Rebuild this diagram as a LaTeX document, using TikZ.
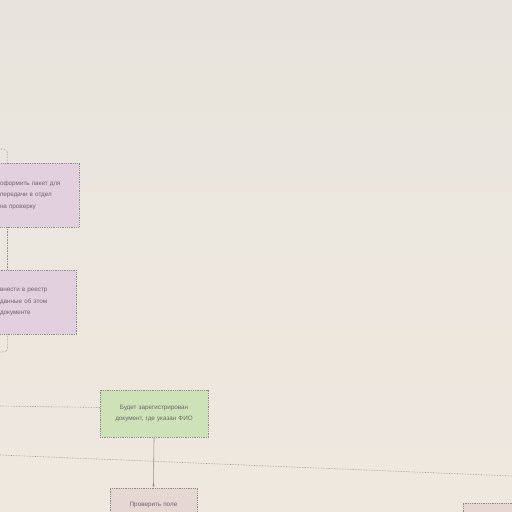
\documentclass[tikz,border=0pt]{standalone}
\usepackage{fontspec}
\setmainfont{Liberation Sans}
\usepackage{tikz}
\usetikzlibrary{arrows.meta, positioning}

\definecolor{wallbg}{RGB}{239,232,223}
\definecolor{walltop}{RGB}{232,228,221}
\definecolor{pinkbox}{RGB}{226,208,222}
\definecolor{greenbox}{RGB}{206,226,184}
\definecolor{rosebox}{RGB}{230,214,212}
\definecolor{wirecol}{RGB}{150,145,142}
\definecolor{inkcol}{RGB}{110,100,108}

\begin{document}
\begin{tikzpicture}[
        x=1pt, y=-1pt,
        >=Latex,
        every node/.style={font=\fontsize{6.3}{11.5}\selectfont, text=inkcol},
        card/.style={draw=black!45, densely dotted, line width=0.8pt, inner xsep=5pt, inner ysep=4pt},
        task/.style={card, fill=pinkbox, align=left, minimum height=64pt},
        event/.style={card, fill=greenbox, align=center, minimum height=47pt},
        check/.style={card, fill=rosebox, align=center},
        wire/.style={draw=wirecol, line width=0.6pt, densely dotted, rounded corners=4pt}
    ]
        \useasboundingbox (0,0) rectangle (512,512);
        \clip (0,0) rectangle (512,512);
        \shade[top color=walltop, bottom color=wallbg] (0,0) rectangle (512,512);

        % boxes
        \node[task, text width=74pt] (prep) at (37,195) {оформить пакет для\\передачи в отдел\\на проверку};
        \node[task, text width=71pt] (reg) at (35.5,302) {внести в реестр\\данные об этом\\документе};
        \node[event, text width=98pt] (done) at (154,413.5) {Будет зарегистрирован\\документ, где указан ФИО};
        \node[check, minimum width=87pt, minimum height=34pt, text width=77pt] (field) at (153.5,505) {Проверить поле\\};
        \node[check, minimum width=54pt, minimum height=24pt] (side) at (490,515) {};

        % free ends
        \coordinate (inTop) at (-2,149);
        \coordinate (outReg) at (-2,352);
        \coordinate (inDone) at (0,406);
        \coordinate (busL) at (0,455);
        \coordinate (busR) at (512,476);

        % connectors
        \draw[wire] (inTop) -| ([xshift=13pt]prep.north west);
        \draw[wire] ([xshift=13pt]prep.south west) -- ([xshift=13pt]reg.north west);
        \draw[wire] ([xshift=13pt]reg.south west) |- (outReg);
        \draw[wire] (inDone) -- ([yshift=6pt]done.west);
        \draw[wire] (busL) -- (busR);
        \draw[wire, solid, -{Latex[length=3pt,width=2.5pt]}] (done.south) -- (field.north);
    \end{tikzpicture}
\end{document}
